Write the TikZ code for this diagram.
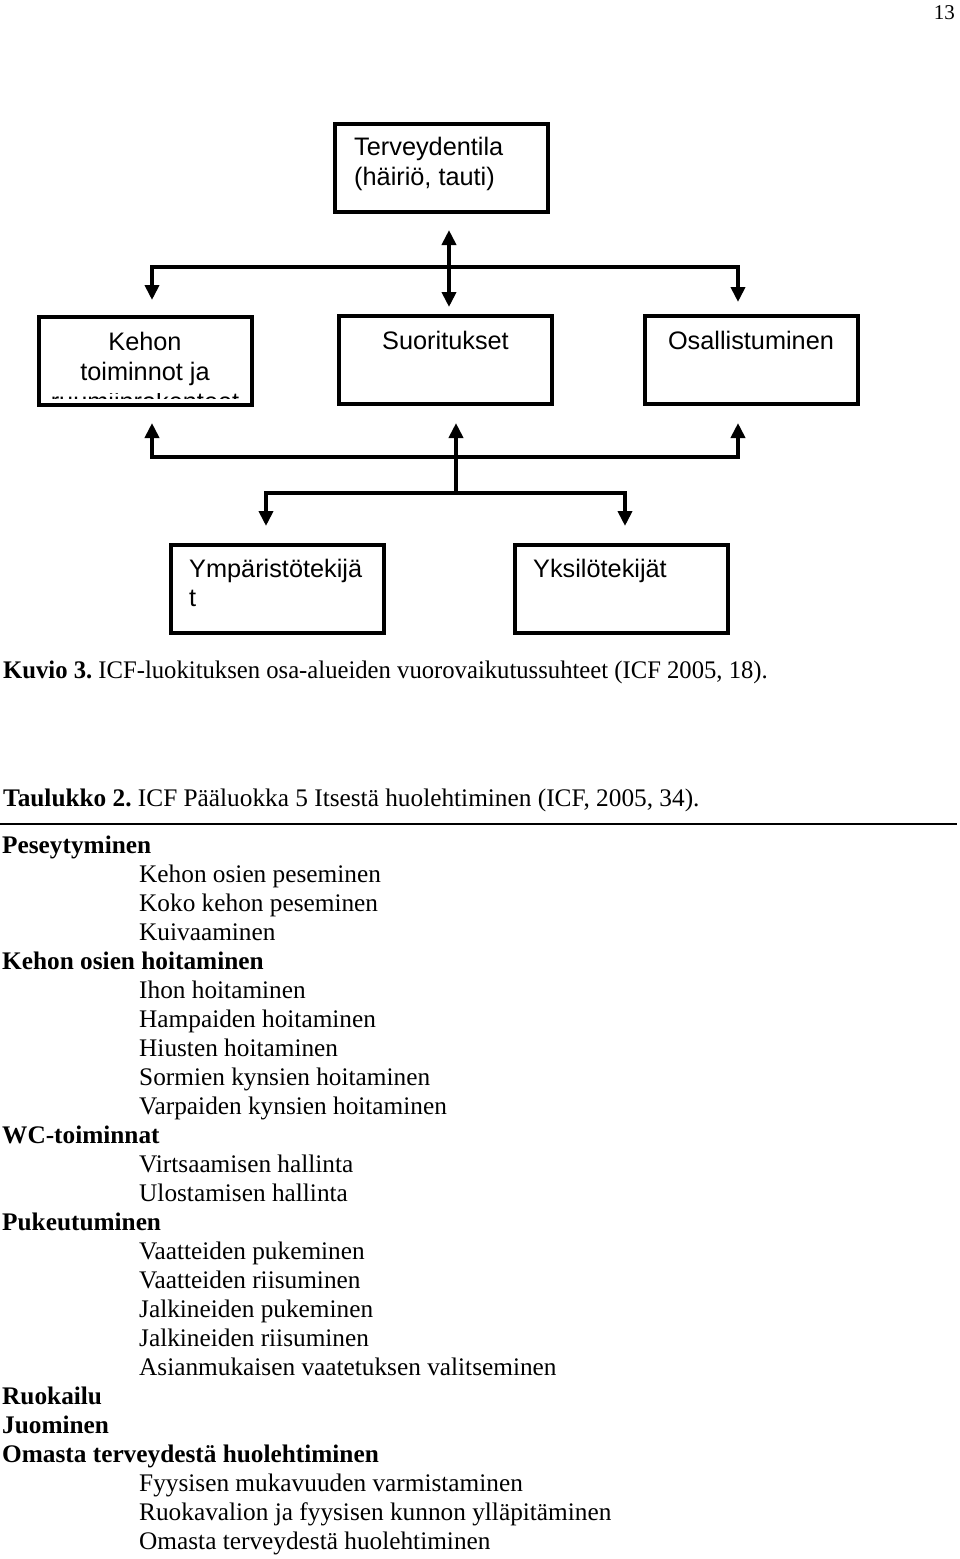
\documentclass[tikz,border=0pt]{standalone}
\usepackage{fontspec}
\setmainfont{Liberation Serif}
\newfontfamily\arialf{Liberation Sans}
\usetikzlibrary{arrows.meta}
\tikzset{mytip/.tip={Triangle[width=14pt,length=15pt]}}
\frenchspacing
\begin{document}
\begin{tikzpicture}[x=1pt,y=-1pt,
  boxx/.style={draw,line width=4pt,minimum width=213pt,minimum height=88pt,inner sep=0pt},
  dtext/.style={inner sep=0pt,font=\arialf\fontsize{25.3}{30}\selectfont},
  ttext/.style={inner sep=0pt,anchor=base west,font=\fontsize{25.3}{29}\selectfont},
  btext/.style={ttext,font=\bfseries\fontsize{25.3}{29}\selectfont},
  conn/.style={line width=4pt,line join=miter}]
\useasboundingbox (0,0) rectangle (960,1559);
\fill[white] (0,0) rectangle (960,1559);

% page number
\node[inner sep=0pt,anchor=base east,font=\fontsize{21}{24}\selectfont] (pg) at (955,19) {13};

% boxes
\node[boxx] (top) at (441.5,167.5) {};
\node[boxx] (keh) at (145,361) {};
\node[boxx] (suo) at (445.5,359.5) {};
\node[boxx] (osa) at (751,359.5) {};
\node[boxx] (ymp) at (277.5,588.5) {};
\node[boxx] (yks) at (621.5,588.5) {};

% box texts
\node[dtext,anchor=base west] (t1) at (354,155) {Terveydentila};
\node[dtext,anchor=base west] (t2) at (354,185) {(häiriö, tauti)};
\node[dtext,anchor=base] (k1) at (145,350) {Kehon};
\node[dtext,anchor=base] (k2) at (145,380) {toiminnot ja};
\begin{scope}
\clip (40,393) rectangle (250,398.5);
\node[dtext,anchor=base] (k3) at (145,410.5) {ruumiinrakenteet};
\end{scope}
\node[dtext,anchor=base] (s1) at (445.5,349) {Suoritukset};
\node[dtext,anchor=base] (o1) at (751,349) {Osallistuminen};
\node[dtext,anchor=base west] (y1) at (189,577) {Ympäristötekijä};
\node[dtext,anchor=base west] (y2) at (189,606) {t};
\node[dtext,anchor=base west] (x1) at (533,577) {Yksilötekijät};

% connector points
\coordinate (a1) at (449,230);
\coordinate (a2) at (449,307);
\coordinate (h1l) at (152,267);
\coordinate (h1r) at (738,267);
\coordinate (d1l) at (152,300);
\coordinate (d1r) at (738,302);
\coordinate (u2l) at (152,423);
\coordinate (u2m) at (456,423);
\coordinate (u2r) at (738,423);
\coordinate (h2l) at (152,457);
\coordinate (h2m) at (456,457);
\coordinate (h2r) at (738,457);
\coordinate (h3m) at (456,493);
\coordinate (h3l) at (266,493);
\coordinate (h3r) at (625,493);
\coordinate (d3l) at (266,526);
\coordinate (d3r) at (625,526);

% connectors
\draw[conn,{mytip}-{mytip}] (a1) -- (a2);
\draw[conn,{mytip}-{mytip}] (d1l) -- (h1l) -- (h1r) -- (d1r);
\draw[conn,{mytip}-{mytip}] (u2l) -- (h2l) -- (h2r) -- (u2r);
\draw[conn,-{mytip}] (h2m) -- (u2m);
\draw[conn] (h2m) -- (h3m);
\draw[conn,{mytip}-{mytip}] (d3l) -- (h3l) -- (h3r) -- (d3r);

% captions
\node[ttext] (cap1) at (3,678) {\scalebox{0.975}[1]{\textbf{Kuvio 3.} ICF-luokituksen osa-alueiden vuorovaikutussuhteet (ICF 2005, 18).}};
\node[ttext] (cap2) at (3,806) {\textbf{Taulukko 2.} ICF Pääluokka 5 Itsestä huolehtiminen (ICF, 2005, 34).};
\draw[line width=2.5pt] (0,824) -- (957,824);

% table
\node[btext] (r0) at (2,853) {Peseytyminen};
\node[ttext] (r1) at (139,882) {Kehon osien peseminen};
\node[ttext] (r2) at (139,911) {Koko kehon peseminen};
\node[ttext] (r3) at (139,940) {Kuivaaminen};
\node[btext] (r4) at (2,969) {Kehon osien hoitaminen};
\node[ttext] (r5) at (139,998) {Ihon hoitaminen};
\node[ttext] (r6) at (139,1027) {Hampaiden hoitaminen};
\node[ttext] (r7) at (139,1056) {Hiusten hoitaminen};
\node[ttext] (r8) at (139,1085) {Sormien kynsien hoitaminen};
\node[ttext] (r9) at (139,1114) {Varpaiden kynsien hoitaminen};
\node[btext] (r10) at (2,1143) {WC-toiminnat};
\node[ttext] (r11) at (139,1172) {Virtsaamisen hallinta};
\node[ttext] (r12) at (139,1201) {Ulostamisen hallinta};
\node[btext] (r13) at (2,1230) {Pukeutuminen};
\node[ttext] (r14) at (139,1259) {Vaatteiden pukeminen};
\node[ttext] (r15) at (139,1288) {Vaatteiden riisuminen};
\node[ttext] (r16) at (139,1317) {Jalkineiden pukeminen};
\node[ttext] (r17) at (139,1346) {Jalkineiden riisuminen};
\node[ttext] (r18) at (139,1375) {Asianmukaisen vaatetuksen valitseminen};
\node[btext] (r19) at (2,1404) {Ruokailu};
\node[btext] (r20) at (2,1433) {Juominen};
\node[btext] (r21) at (2,1462) {Omasta terveydestä huolehtiminen};
\node[ttext] (r22) at (139,1491) {Fyysisen mukavuuden varmistaminen};
\node[ttext] (r23) at (139,1520) {Ruokavalion ja fyysisen kunnon ylläpitäminen};
\node[ttext] (r24) at (139,1549) {Omasta terveydestä huolehtiminen};
\end{tikzpicture}
\end{document}
